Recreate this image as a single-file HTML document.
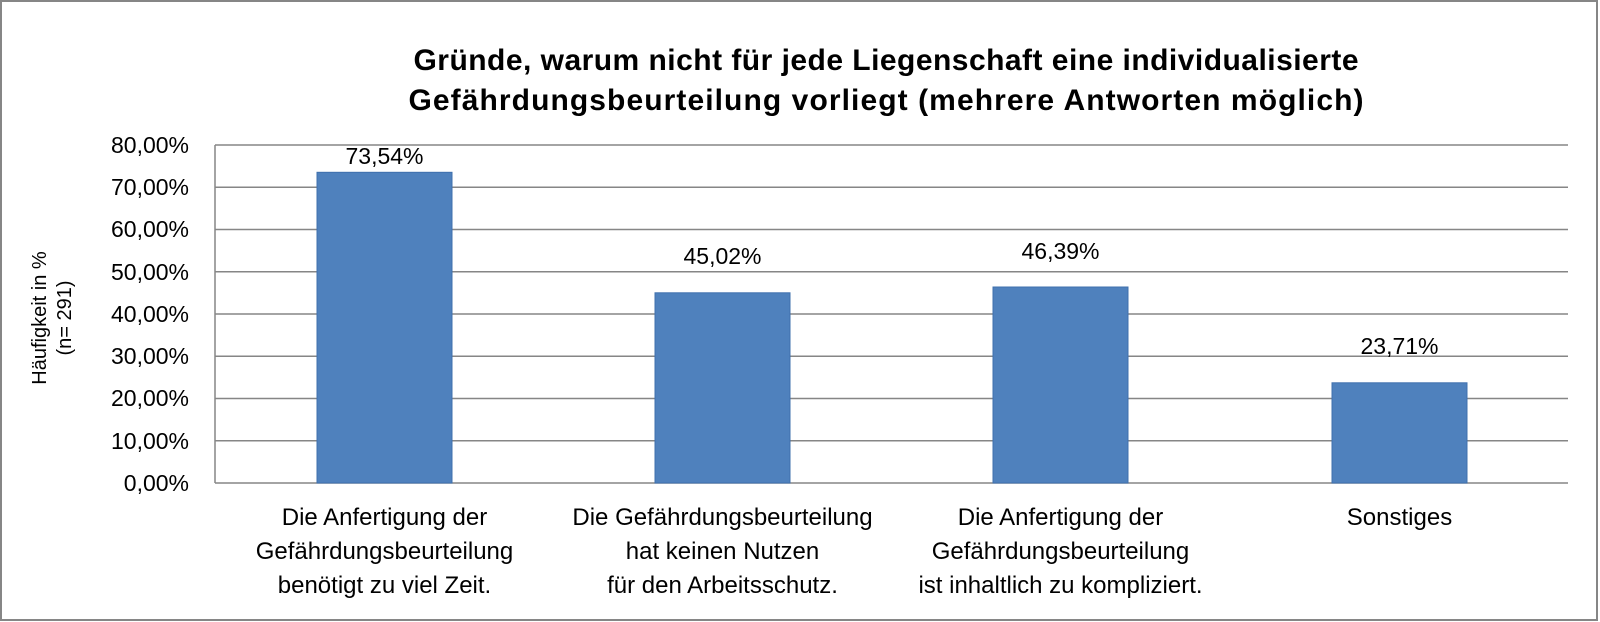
<!DOCTYPE html>
<html><head><meta charset="utf-8"><style>
body{margin:0;background:#fff;}
svg{display:block;font-family:"Liberation Sans","DejaVu Sans",sans-serif;}
</style></head><body>
<svg width="1600" height="622" xmlns="http://www.w3.org/2000/svg">
<rect x="1" y="1" width="1596" height="619" fill="#fff" stroke="#868686" stroke-width="2"/>
<text x="886" y="70" font-size="30" font-weight="bold" text-anchor="middle" textLength="945">Gründe, warum nicht für jede Liegenschaft eine individualisierte</text>
<text x="886" y="110" font-size="30" font-weight="bold" text-anchor="middle" textLength="955">Gefährdungsbeurteilung vorliegt (mehrere Antworten möglich)</text>
<g stroke="#868686" stroke-width="1.5">
<line x1="215" y1="145" x2="1568" y2="145"/>
<line x1="215" y1="187.2" x2="1568" y2="187.2"/>
<line x1="215" y1="229.5" x2="1568" y2="229.5"/>
<line x1="215" y1="271.7" x2="1568" y2="271.7"/>
<line x1="215" y1="314" x2="1568" y2="314"/>
<line x1="215" y1="356.2" x2="1568" y2="356.2"/>
<line x1="215" y1="398.5" x2="1568" y2="398.5"/>
<line x1="215" y1="440.7" x2="1568" y2="440.7"/>
<line x1="215" y1="483" x2="1568" y2="483"/>
<line x1="215" y1="145" x2="215" y2="483"/>
</g>
<g font-size="23" text-anchor="end">
<text x="189" y="153">80,00%</text>
<text x="189" y="195">70,00%</text>
<text x="189" y="237">60,00%</text>
<text x="189" y="280">50,00%</text>
<text x="189" y="322">40,00%</text>
<text x="189" y="364">30,00%</text>
<text x="189" y="406">20,00%</text>
<text x="189" y="449">10,00%</text>
<text x="189" y="491">0,00%</text>
</g>
<g fill="#4f81bd" stroke="#3f70ad" stroke-width="1">
<rect x="317" y="172.3" width="135" height="310.7"/>
<rect x="655" y="292.8" width="135" height="190.2"/>
<rect x="993" y="287" width="135" height="196"/>
<rect x="1332" y="382.8" width="135" height="100.2"/>
</g>
<g font-size="23" text-anchor="middle">
<text x="384.5" y="164">73,54%</text>
<text x="722.5" y="264">45,02%</text>
<text x="1060.5" y="259">46,39%</text>
<text x="1399.5" y="354">23,71%</text>
</g>
<g font-size="24" text-anchor="middle">
<text x="384.5" y="525">Die Anfertigung der</text>
<text x="384.5" y="559">Gefährdungsbeurteilung</text>
<text x="384.5" y="593">benötigt zu viel Zeit.</text>
<text x="722.5" y="525">Die Gefährdungsbeurteilung</text>
<text x="722.5" y="559">hat keinen Nutzen</text>
<text x="722.5" y="593">für den Arbeitsschutz.</text>
<text x="1060.5" y="525">Die Anfertigung der</text>
<text x="1060.5" y="559">Gefährdungsbeurteilung</text>
<text x="1060.5" y="593">ist inhaltlich zu kompliziert.</text>
<text x="1399.5" y="525">Sonstiges</text>
</g>
<g font-size="20" text-anchor="middle">
<text transform="translate(46,318) rotate(-90)">Häufigkeit in %</text>
<text transform="translate(71,318) rotate(-90)">(n= 291)</text>
</g>
</svg>
</body></html>
